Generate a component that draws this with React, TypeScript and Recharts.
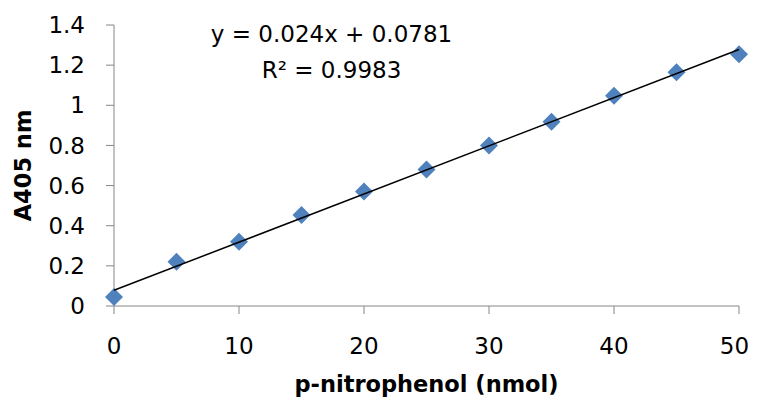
import { Scatter, ScatterChart, XAxis, YAxis, Label } from 'recharts';

const nitrophenolNmol = [0, 5, 10, 15, 20, 25, 30, 35, 40, 45, 50];
const absorbance = [0.045, 0.22, 0.32, 0.453, 0.57, 0.68, 0.8, 0.918, 1.048, 1.164, 1.254];
const xTicks = [0, 10, 20, 30, 40, 50];
const yTicks = [0, 0.2, 0.4, 0.6, 0.8, 1, 1.2, 1.4];
const slope = 0.024;
const intercept = 0.0781;
const rSquared = '0.9983';
const trendRange = [0, 50];

const points = nitrophenolNmol.map((x, i) => ({ x, y: absorbance[i] }));
const trend = trendRange.map((x) => ({ x, y: slope * x + intercept }));

const font = '"DejaVu Sans", sans-serif';
const axisGrey = '#868686';
const rightEdge = 749;

// Excel-style diamond: a square turned 45 degrees
const Diamond = (props: any) => {
    const { cx, cy } = props;
    const r = 9;
    return (
        <path
            d={`M${cx},${cy - r} L${cx + r},${cy} L${cx},${cy + r} L${cx - r},${cy} Z`}
            fill='#4f81bd'
        />
    );
};

// centred under the tick, but pulled in so the last label stays inside the frame
const XTick = (props: any) => {
    const { x, y, payload } = props;
    const halfWidth = String(payload.value).length * 7.3;
    const cx = Math.min(x, rightEdge - halfWidth);
    return (
        <text x={cx} y={y + 16} textAnchor='middle' fontFamily={font} fontSize={23} fill='#000'>
            {payload.value}
        </text>
    );
};

const YTitle = (props: any) => {
    const { viewBox } = props;
    const cy = viewBox.y + viewBox.height / 2;
    return (
        <text
            transform={`translate(31,${cy}) rotate(-90)`}
            textAnchor='middle'
            fontFamily={font}
            fontWeight={700}
            fontSize={22.5}
            fill='#000'
        >
            A405 nm
        </text>
    );
};

const XTitle = (props: any) => {
    const { viewBox } = props;
    const cx = viewBox.x + viewBox.width / 2;
    return (
        <text
            x={cx}
            y={392}
            textAnchor='middle'
            fontFamily={font}
            fontWeight={700}
            fontSize={22.5}
            fill='#000'
        >
            p-nitrophenol (nmol)
        </text>
    );
};

export default function App() {
    return (
        <div style={{ position: 'relative', width: 757, height: 405, margin: -8 }}>
            <ScatterChart
                width={757}
                height={405}
                margin={{ top: 25, right: 18, bottom: 0, left: 0 }}
            >
                <XAxis
                    type='number'
                    dataKey='x'
                    domain={[0, 50]}
                    ticks={xTicks}
                    interval={0}
                    height={99}
                    stroke={axisGrey}
                    tickSize={8}
                    tickMargin={24}
                    tick={<XTick />}
                >
                    <Label content={<XTitle />} />
                </XAxis>
                <YAxis
                    type='number'
                    dataKey='y'
                    domain={[0, 1.4]}
                    ticks={yTicks}
                    interval={0}
                    width={114}
                    stroke={axisGrey}
                    tickSize={8}
                    tickMargin={21}
                    tick={{ fill: '#000', fontSize: 23, fontFamily: font }}
                >
                    <Label content={<YTitle />} />
                </YAxis>
                <Scatter data={points} shape={<Diamond />} isAnimationActive={false} />
                <Scatter
                    data={trend}
                    line={{ stroke: '#000', strokeWidth: 1.5 }}
                    shape={() => <g />}
                    isAnimationActive={false}
                />
            </ScatterChart>
            <svg
                width={757}
                height={100}
                style={{ position: 'absolute', left: 0, top: 0, pointerEvents: 'none' }}
            >
                <text x={331.5} y={42} textAnchor='middle' fontFamily={font} fontSize={23} fill='#000'>
                    {`y = ${slope}x + ${intercept}`}
                </text>
                <text x={331.5} y={78} textAnchor='middle' fontFamily={font} fontSize={23} fill='#000'>
                    R² = {rSquared}
                </text>
            </svg>
        </div>
    );
}
